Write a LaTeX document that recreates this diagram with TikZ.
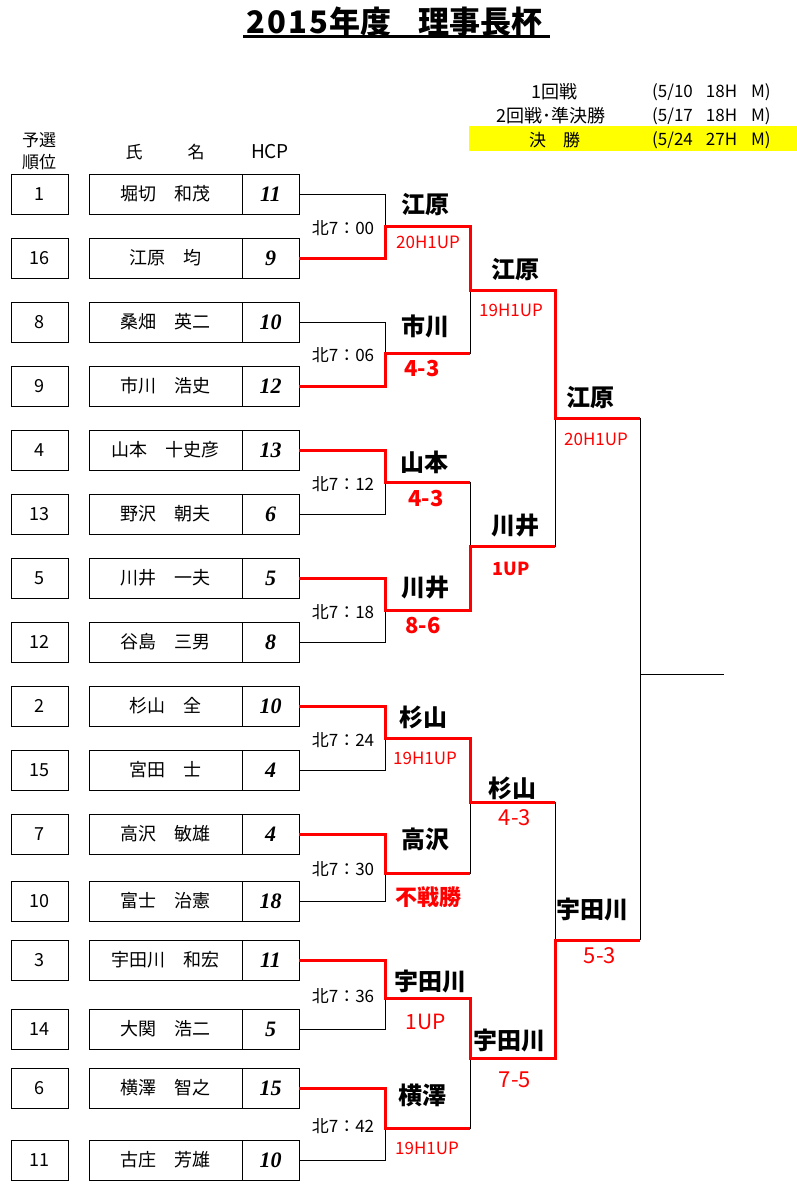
\documentclass[tikz,border=0pt]{standalone}
\usepackage{fontspec}
\setmainfont{Noto Sans CJK JP}
\newfontfamily\hcpfont{Liberation Serif}
\usetikzlibrary{positioning}
\definecolor{brred}{RGB}{255,0,0}
\definecolor{finyellow}{RGB}{255,255,0}
\newcommand\tdig[1]{\makebox[21pt]{#1}}
\tikzstyle{rankbox} = [rectangle, draw, line width=1pt, outer sep=0pt, inner sep=0pt,
    minimum width=57pt, minimum height=40pt, font=\fontsize{18}{18}\selectfont]
\tikzstyle{namebox} = [rankbox, minimum width=153pt]
\tikzstyle{hcpbox} = [rankbox, font=\hcpfont\bfseries\itshape\fontsize{22}{22}\selectfont]
\tikzstyle{lose} = [line width=1pt, color=black]
\tikzstyle{win} = [line width=3pt, color=brred]
\tikzstyle{slot} = [inner sep=0pt, font=\fontsize{17}{17}\selectfont]
\tikzstyle{wname} = [inner sep=0pt, font=\bfseries\fontsize{24}{24}\selectfont]
\tikzstyle{score} = [inner sep=0pt, text=brred, font=\fontsize{17}{17}\selectfont]
\tikzstyle{bigscore} = [inner sep=0pt, text=brred, font=\fontsize{22}{22}\selectfont]

\begin{document}
\begin{tikzpicture}[x=1pt, y=-1pt]
\useasboundingbox (0,0) rectangle (797,1197);
% title and schedule
\node[inner sep=0pt, anchor=base west, font=\bfseries\fontsize{31}{31}\selectfont] (title) at (245,33)
  {\tdig{2}\tdig{0}\tdig{1}\tdig{5}年度\hspace{27pt}理事長杯};
\draw[line width=2.5pt] ([xshift=-2pt]title.south west) -- ([xshift=8pt]title.south east);
\fill[finyellow] (469,126) rectangle (797,151);
\node[slot, anchor=west, font=\fontsize{18}{18}\selectfont] (rnd1) at (531,92) {1回戦};
\node[slot, anchor=west, font=\fontsize{18}{18}\selectfont] (rnd2) at (496,116) {2回戦･準決勝};
\node[slot, anchor=west, font=\fontsize{17}{17}\selectfont] (rnd3) at (529,140) {決　勝};
\node[slot, anchor=west] (day1) at (652,92) {(5/10\hspace{13pt}18H\hspace{14pt}M)};
\node[slot, anchor=west] (day2) at (652,116) {(5/17\hspace{13pt}18H\hspace{14pt}M)};
\node[slot, anchor=west] (day3) at (652,140) {(5/24\hspace{13pt}27H\hspace{14pt}M)};
% header
\node[slot, align=center, font=\fontsize{17}{22}\selectfont] (rankhd) at (39,151) {予選\\順位};
\node[slot] (namehd) at (165,152) {氏\hspace{45pt}名};
\node[slot, font=\fontsize{19}{19}\selectfont] (hcphd) at (270,152) {HCP};
% players
\foreach \i/\r/\n/\h/\y in {1/1/堀切　和茂/11/194, 2/16/江原　均/9/258, 3/8/桑畑　英二/10/322,
    4/9/市川　浩史/12/386, 5/4/山本　十史彦/13/450, 6/13/野沢　朝夫/6/514, 7/5/川井　一夫/5/578,
    8/12/谷島　三男/8/642, 9/2/杉山　全/10/706, 10/15/宮田　士/4/770, 11/7/高沢　敏雄/4/834,
    12/10/富士　治憲/18/901, 13/3/宇田川　和宏/11/960, 14/14/大関　浩二/5/1029,
    15/6/横澤　智之/15/1088, 16/11/古庄　芳雄/10/1160} {
  \node[rankbox] (rk\i) at (39.5,\y) {\r};
  \node[namebox, right=21pt of rk\i] (nm\i) {\n};
  \node[hcpbox, right=0pt of nm\i] (hc\i) {\h};
}
% bracket joints
\coordinate (a1) at (385,226); \coordinate (a2) at (385,353);
\coordinate (a3) at (385,482); \coordinate (a4) at (385,610);
\coordinate (a5) at (385,738); \coordinate (a6) at (385,873);
\coordinate (a7) at (385,998); \coordinate (a8) at (385,1128);
\coordinate (b1) at (470,290); \coordinate (b2) at (470,546);
\coordinate (b3) at (470,802); \coordinate (b4) at (470,1058);
\coordinate (c1) at (555,418); \coordinate (c2) at (555,940);
\coordinate (d) at (640,674); \coordinate (e) at (724,674);
% losing sides
\draw[lose] (hc1.east) -| (a1);  \draw[lose] (hc3.east) -| (a2);
\draw[lose] (hc6.east) -| (a3);  \draw[lose] (hc8.east) -| (a4);
\draw[lose] (hc10.east) -| (a5); \draw[lose] (hc12.east) -| (a6);
\draw[lose] (hc14.east) -| (a7); \draw[lose] (hc16.east) -| (a8);
\draw[lose] (a2) -| (b1); \draw[lose] (a3) -| (b2);
\draw[lose] (a6) -| (b3); \draw[lose] (a8) -| (b4);
\draw[lose] (b2) -| (c1); \draw[lose] (b3) -| (c2);
\draw[lose] (c1 -| d) -- (c2 -| d);
\draw[lose] (d) -- (e);
% winning sides
\draw[win] (hc2.east) -| (a1) -| (b1) -| (c1) -- (c1 -| d);
\draw[win] (hc4.east) -| (a2) -- (a2 -| b1);
\draw[win] (hc5.east) -| (a3) -- (a3 -| b2);
\draw[win] (hc7.east) -| (a4) -| (b2) -- (b2 -| c1);
\draw[win] (hc9.east) -| (a5) -| (b3) -- (b3 -| c1);
\draw[win] (hc11.east) -| (a6) -- (a6 -| b3);
\draw[win] (hc13.east) -| (a7) -| (b4) -| (c2) -- (c2 -| d);
\draw[win] (hc15.east) -| (a8) -- (a8 -| b4);
% tee times
\foreach \k/\t/\y in {1/00/228, 2/06/355, 3/12/484, 4/18/612, 5/24/740, 6/30/869, 7/36/996, 8/42/1126}
  \node[slot] (slot\k) at (343,\y) {北7：\t};
% first round
\node[wname] (win1) at (425,205) {江原};    \node[score] (score1) at (428,242) {20H1UP};
\node[wname] (win2) at (425,326) {市川};    \node[bigscore, font=\bfseries\fontsize{22}{22}\selectfont] (score2) at (422,369) {4-3};
\node[wname] (win3) at (424,462) {山本};    \node[bigscore, font=\bfseries\fontsize{22}{22}\selectfont] (score3) at (426,499) {4-3};
\node[wname] (win4) at (425,587) {川井};    \node[bigscore, font=\bfseries\fontsize{22}{22}\selectfont] (score4) at (423,626) {8-6};
\node[wname] (win5) at (423,717) {杉山};    \node[score] (score5) at (425,758) {19H1UP};
\node[wname] (win6) at (425,839) {高沢};    \node[bigscore, font=\bfseries\fontsize{22}{22}\selectfont] (score6) at (428,897) {不戦勝};
\node[wname] (win7) at (430,981) {宇田川};  \node[bigscore, font=\fontsize{21}{21}\selectfont] (score7) at (426,1022) {1UP};
\node[wname] (win8) at (422,1095) {横澤};   \node[score] (score8) at (427,1148) {19H1UP};
% second round
\node[wname] (qwin1) at (515,270) {江原};   \node[score] (qscore1) at (511,310) {19H1UP};
\node[wname] (qwin2) at (515,525) {川井};   \node[score, font=\bfseries\fontsize{18}{18}\selectfont] (qscore2) at (511,569) {1UP};
\node[wname] (qwin3) at (512,788) {杉山};   \node[bigscore] (qscore3) at (515,818) {4-3};
\node[wname] (qwin4) at (509,1040) {宇田川}; \node[bigscore] (qscore4) at (515,1080) {7-5};
% semi finals
\node[wname] (swin1) at (590,398) {江原};   \node[score] (sscore1) at (596,439) {20H1UP};
\node[wname] (swin2) at (592,910) {宇田川}; \node[bigscore] (sscore2) at (600,956) {5-3};
\end{tikzpicture}
\end{document}
